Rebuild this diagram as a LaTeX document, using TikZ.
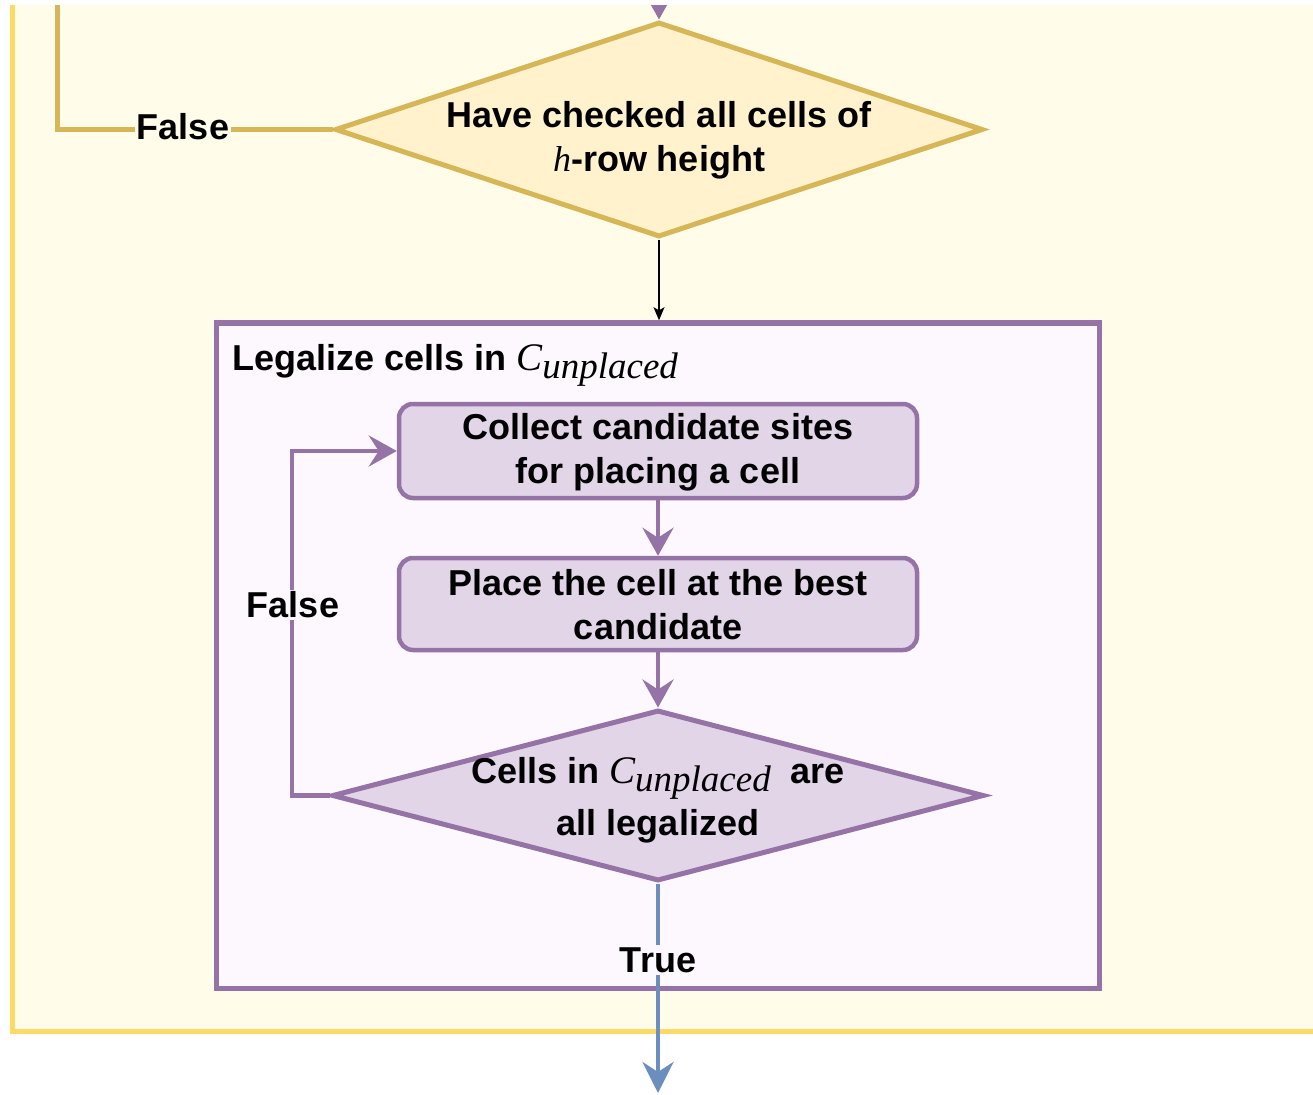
\documentclass[tikz,border=0pt]{standalone}
\usepackage{fontspec}
\setmainfont{Liberation Sans}
\newfontfamily\serifit{Liberation Serif}
\usetikzlibrary{arrows.meta,shapes.geometric}
\definecolor{ystroke}{HTML}{FFD966}
\definecolor{yfill}{HTML}{FFFDE9}
\definecolor{dstroke}{HTML}{D6B656}
\definecolor{dfill}{HTML}{FFF2CC}
\definecolor{pstroke}{HTML}{9673A6}
\definecolor{pfill}{HTML}{E1D5E7}
\definecolor{cfill}{HTML}{FDF8FE}
\definecolor{bstroke}{HTML}{6C8EBF}
\newcommand\Cun[1][37]{{\serifit\mdseries\itshape\fontsize{39}{39}\selectfont C\raisebox{-0.22em}{\fontsize{#1}{#1}\selectfont unplaced}}}
\tikzset{
  txt/.style={font=\fontsize{36}{44}\selectfont\bfseries, align=center, inner sep=0pt},
  lbl/.style={font=\fontsize{36}{44}\selectfont\bfseries, inner sep=2pt},
  parr/.style={draw=pstroke, line width=4.5pt, -{Stealth[length=28pt,width=31pt,inset=10pt]}},
  barr/.style={draw=bstroke, line width=4.5pt, -{Stealth[length=31pt,width=31pt,inset=10pt]}},
  karr/.style={draw=black, line width=1.5pt, -{Stealth[length=13pt,width=11pt,inset=3pt]}},
  procbox/.style={draw=pstroke, fill=pfill, line width=4.5pt, rounded corners=14pt, minimum width=518pt, inner sep=0pt},
  decide/.style={shape=diamond, line width=5pt, inner sep=0pt},
}
\begin{document}
\begin{tikzpicture}[x=1pt,y=-1pt]
\useasboundingbox (0,0) rectangle (1313,1094);
\fill[white] (0,0) rectangle (1313,1094);
\begin{scope}
\clip (0,6) rectangle (1313,1094);
% outer container
\draw[draw=ystroke, fill=yfill, line width=5pt] (12,-40) rectangle (1360,1031);
\coordinate (topin) at (659,-40);
\coordinate (topleft) at (57,-40);
% decision 1
\node[decide, draw=dstroke, fill=dfill, minimum width=648pt, minimum height=215pt] (d1) at (659,129.5) {};
\node[txt] (d1t) at (659,140) {Have checked all cells of\\{\serifit\mdseries\itshape h}-row height};
\draw[parr] (topin) -- (d1.north);
\draw[draw=dstroke, line width=5pt] (d1.west) -| (topleft);
\node[lbl, fill=yfill] (f1) at (183,127) {False};
% inner container
\node[draw=pstroke, fill=cfill, line width=5.5pt, minimum width=883pt, minimum height=665.5pt, inner sep=0pt] (cont) at (658,655.75) {};
\draw[karr] (d1.south) -- (d1.south |- cont.north);
\node[font=\fontsize{36}{44}\selectfont\bfseries, anchor=base west, inner sep=0pt] (title) at (232,370) {Legalize cells in \Cun};
% process boxes
\node[procbox, minimum height=94pt] (b1) at (658,451) {};
\node[txt] (b1t) at (658,452) {Collect candidate sites\\for placing a cell};
\node[procbox, minimum height=92pt] (b2) at (658,604) {};
\node[txt] (b2t) at (658,605) {Place the cell at the best\\candidate};
% decision 2
\node[decide, draw=pstroke, fill=pfill, minimum width=652pt, minimum height=171pt] (d2) at (658,795.5) {};
\node[txt, font=\fontsize{36}{52}\selectfont\bfseries] (d2t) at (658,800) {Cells in \Cun\ \ are\\all legalized};
\draw[parr] (b1.south) -- (b2.north);
\draw[parr] (b2.south) -- (d2.north);
\coordinate (loopx) at (292,0);
\draw[parr] (d2.west) -- (d2.west -| loopx) |- (b1.west);
\node[lbl, fill=cfill] (f2) at (293,605) {False};
\coordinate (bend) at (658,1093);
\draw[barr] (d2.south) -- (bend);
\node[lbl, fill=cfill] (t) at (658,960) {True};
\end{scope}
\end{tikzpicture}
\end{document}
